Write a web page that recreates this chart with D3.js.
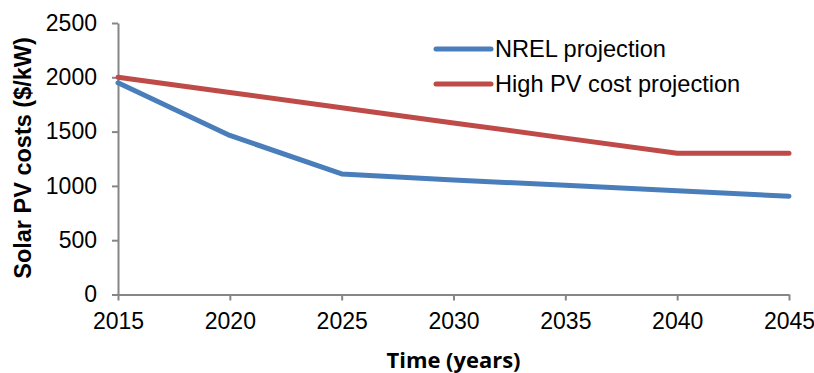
<!DOCTYPE html>
<html>
<head>
<meta charset="utf-8">
<script src="https://cdn.jsdelivr.net/npm/d3@7"></script>
<style>
  html, body { margin: 0; padding: 0; background: #fff; }
  svg { display: block; }
</style>
</head>
<body>
<svg id="chart" width="814" height="373"></svg>
<script>
// ---- data ----
const years = [2015, 2020, 2025, 2030, 2035, 2040, 2045];
const nrelValues = [1950, 1465, 1110, 1055, 1005, 955, 905];
const highValues = [2000, 1860, 1720, 1580, 1440, 1300, 1300];
const seriesNames = ["NREL projection", "High PV cost projection"];
const seriesColors = ["#4A7EBB", "#BE4B48"];
const xTicks = [2015, 2020, 2025, 2030, 2035, 2040, 2045];
const yTicks = [0, 500, 1000, 1500, 2000, 2500];
const xTitle = "Time (years)";
const yTitle = "Solar PV costs ($/kW)";

(function () {
// ---- layout ----
const svg = d3.select("#chart");
const mLeft = 118, mRight = 789, mTop = 23, mBottom = 294.5;
const x = d3.scaleLinear().domain([2015, 2045]).range([mLeft, mRight]);
const y = d3.scaleLinear().domain([0, 2500]).range([mBottom, mTop]);
const axisColor = "#868686";
const fontFam = "'Liberation Sans', Arial, sans-serif";

// axes
const xAxis = svg.append("g")
  .attr("transform", `translate(0,${mBottom})`)
  .call(d3.axisBottom(x).tickValues(xTicks).tickFormat(d3.format("d")).tickSize(6).tickSizeOuter(0).tickPadding(12));
const yAxis = svg.append("g")
  .attr("transform", `translate(${mLeft},0)`)
  .call(d3.axisLeft(y).tickValues(yTicks).tickFormat(d3.format("d")).tickSize(6).tickSizeOuter(0).tickPadding(15));

[xAxis, yAxis].forEach(g => {
  g.select(".domain").attr("stroke", axisColor).attr("stroke-width", 2);
  g.selectAll(".tick line").attr("stroke", axisColor).attr("stroke-width", 2);
  g.selectAll(".tick text").attr("fill", "#000").style("font-family", fontFam).style("font-size", "23px");
});

// lines
const series = [
  { name: seriesNames[0], color: seriesColors[0], values: nrelValues },
  { name: seriesNames[1], color: seriesColors[1], values: highValues }
];
const line = d3.line().x((d, i) => x(years[i])).y(d => y(d));
svg.append("g").selectAll("path")
  .data(series)
  .join("path")
  .attr("d", d => line(d.values))
  .attr("fill", "none")
  .attr("stroke", d => d.color)
  .attr("stroke-width", 5)
  .attr("stroke-linejoin", "round")
  .attr("stroke-linecap", "round");

// legend
const legend = svg.append("g").attr("transform", "translate(436,49)");
const items = legend.selectAll("g").data(series).join("g")
  .attr("transform", (d, i) => `translate(0,${i * 35})`);
items.append("line")
  .attr("x1", 0).attr("x2", 55).attr("y1", 0).attr("y2", 0)
  .attr("stroke", d => d.color).attr("stroke-width", 5).attr("stroke-linecap", "round");
items.append("text")
  .attr("x", 59).attr("y", 0).attr("dy", "0.35em")
  .style("font-family", fontFam).style("font-size", "23.6px")
  .attr("fill", "#000")
  .text(d => d.name);

// axis titles
svg.append("text")
  .attr("transform", `translate(31,158) rotate(-90)`)
  .attr("text-anchor", "middle")
  .style("font-family", fontFam).style("font-size", "23.5px").style("font-weight", "bold")
  .attr("fill", "#000")
  .text(yTitle);

svg.append("text")
  .attr("x", (mLeft + mRight) / 2).attr("y", 368)
  .attr("text-anchor", "middle")
  .attr("textLength", 134).attr("lengthAdjust", "spacingAndGlyphs")
  .style("font-family", "'Open Sans', sans-serif").style("font-size", "21px").style("font-weight", "bold")
  .attr("fill", "#000")
  .text(xTitle);
})();
</script>
</body>
</html>
